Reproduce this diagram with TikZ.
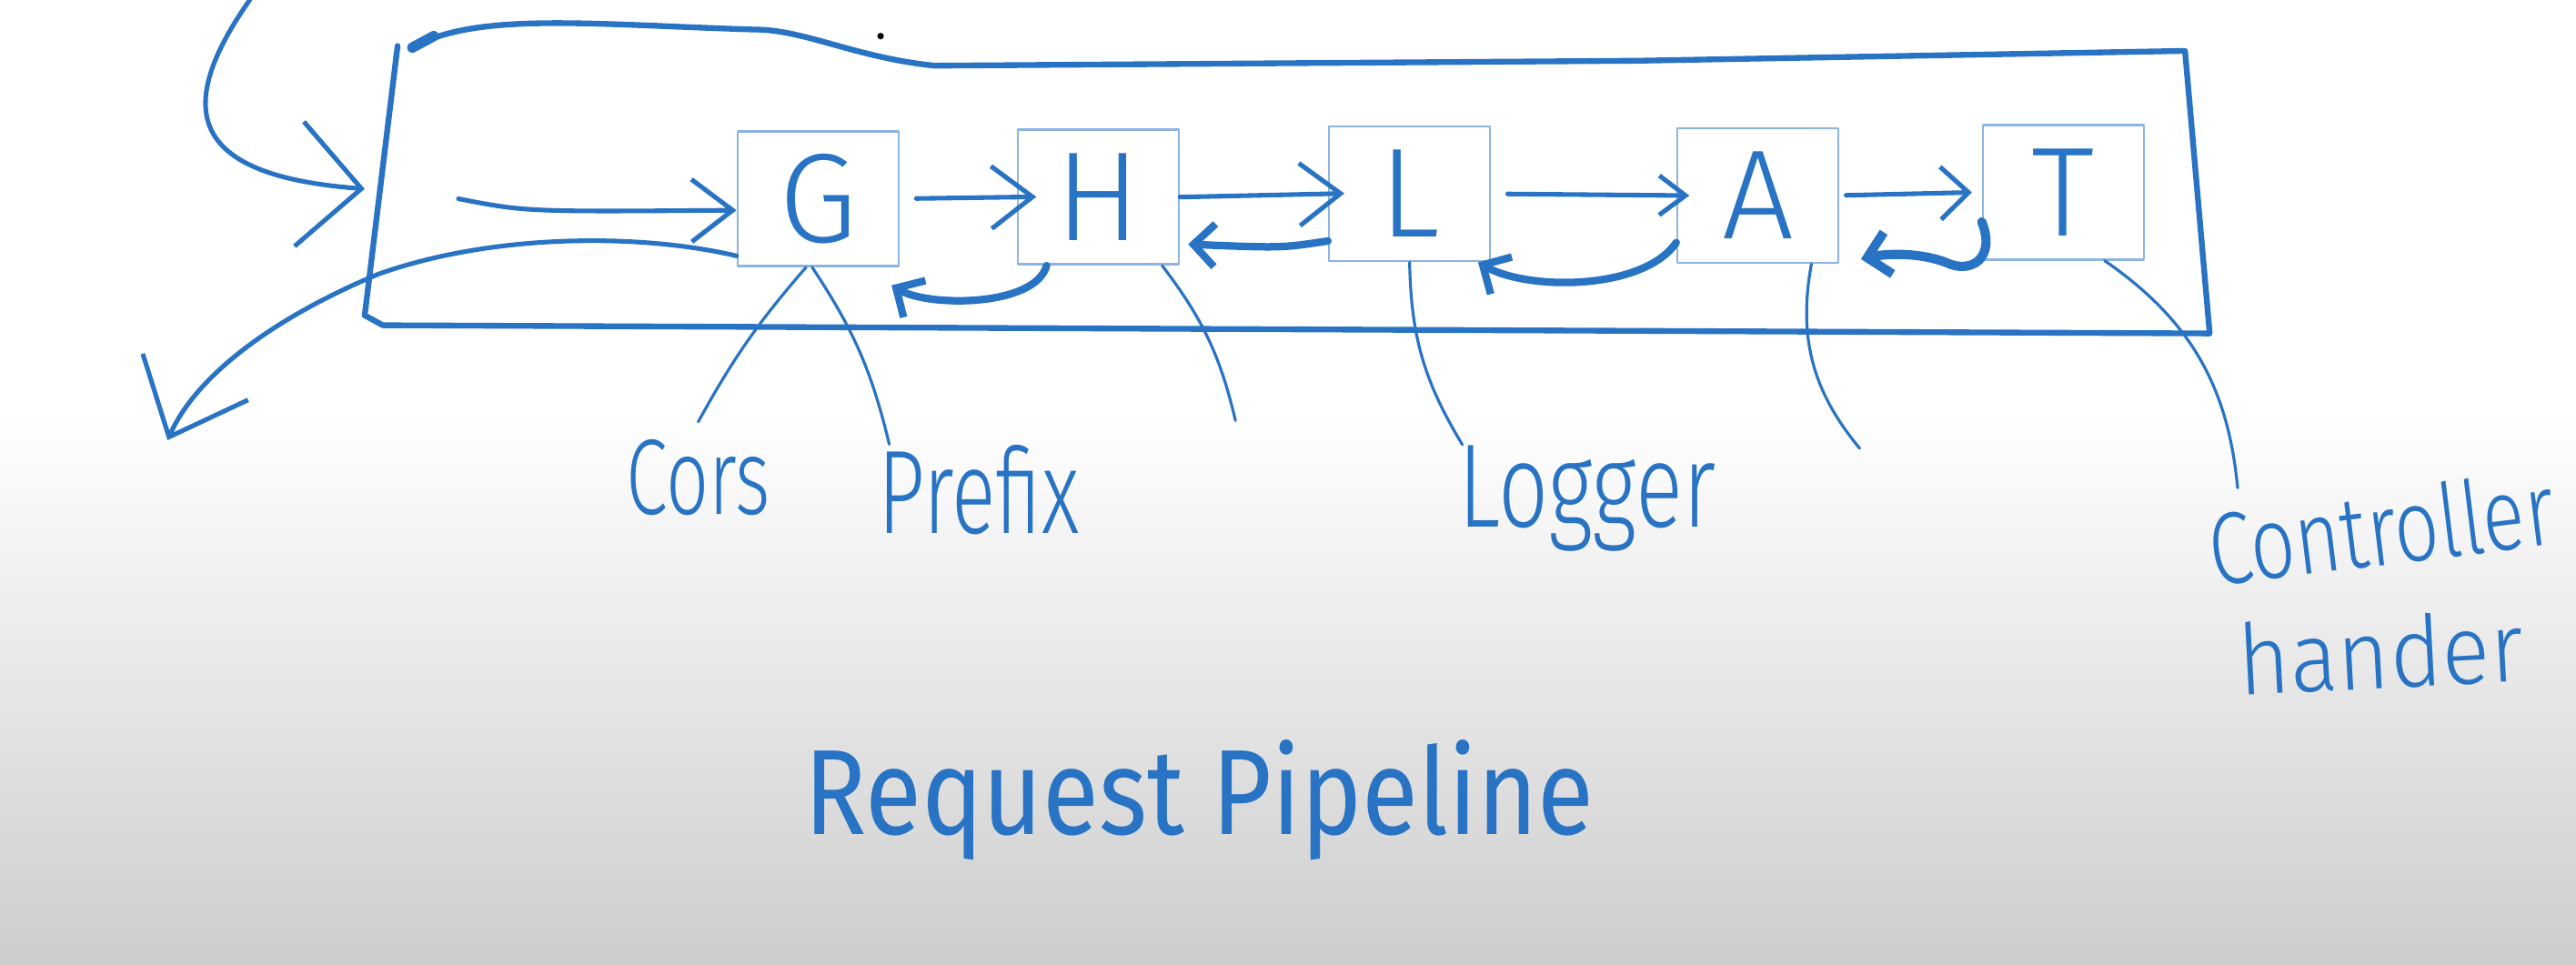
\documentclass[tikz,border=0pt]{standalone}
\usepackage{fontspec}
\setmainfont{Fira Sans}
\newfontfamily\hand{Fira Sans Light}
\usetikzlibrary{arrows.meta}
\definecolor{inkblue}{RGB}{40,115,195}
\definecolor{boxblue}{RGB}{140,180,225}
\definecolor{boardgray}{RGB}{205,205,205}

\begin{document}
\begin{tikzpicture}[color=inkblue, line cap=round, line join=round,
    mware/.style={draw=boxblue, line width=0.4pt, minimum width=0.98cm, minimum height=0.82cm, inner sep=0pt, text=inkblue, font=\hand\fontsize{22}{22}\selectfont},
    note/.style={inner sep=0pt, anchor=base, text=inkblue},
    fwd/.style={line width=0.8pt, -{Straight Barb[length=2.5mm,width=3.8mm]}},
    bck/.style={line width=1.3pt, -{Straight Barb[length=1.3mm,width=2.6mm]}},
    lead/.style={line width=0.5pt}]

		% whiteboard
		\fill[white] (0,0) rectangle (15.68,5.87);
		\shade[top color=white, bottom color=boardgray] (0,0) rectangle (15.68,3.35);
		\useasboundingbox (0,0) rectangle (15.68,5.87);

		% pipeline frame
		\draw[line width=1pt] (2.42,5.59) -- (2.22,3.95) -- (2.33,3.89) -- (13.45,3.84) -- (13.30,5.56) -- (9.97,5.50) -- (5.69,5.47)
		.. controls (5.2,5.52) and (4.9,5.69) .. (4.59,5.69)
		.. controls (3.6,5.72) and (2.9,5.80) .. (2.51,5.58);
		\draw[line width=1.8pt] (2.51,5.58) -- (2.64,5.65);
		\fill[black] (5.36,5.65) circle (0.02);

		% middlewares
		\path (4.98,4.66) node[mware] (G) {G}
		(6.685,4.67) node[mware] (H) {H}
		(8.58,4.69) node[mware] (L) {L}
		(10.70,4.68) node[mware] (A) {A}
		(12.56,4.70) node[mware] (T) {T};

		% labels
		\path (4.25,2.74) node[note, xscale=.7, font=\hand\fontsize{18.6}{19}\selectfont] (cors) {Cors}
		(5.96,2.62) node[note, xscale=.69, font=\hand\fontsize{20.6}{21}\selectfont] (prefix) {Prefix}
		(9.66,2.66) node[note, xscale=.74, font=\hand\fontsize{20.6}{21}\selectfont] (logger) {Logger}
		(14.52,2.43) node[note, rotate=7, xscale=.77, font=\hand\fontsize{17.7}{18}\selectfont] (ctrl) {Controller}
		(14.50,1.68) node[note, rotate=3, xscale=.91, font=\hand\fontsize{17}{17}\selectfont] (handler) {hander}
		(7.30,0.79) node[note, xscale=.85, font=\fontsize{21}{21}\selectfont] (title) {Request Pipeline};

		\coordinate (looptop) at (1.52,5.87);
		\coordinate (loopend) at (2.22,4.72);
		\coordinate (entry) at (2.79,4.66);
		\coordinate (exit) at (1.02,3.19);
		\coordinate (hend) at (7.52,3.31);
		\coordinate (aend) at (11.32,3.14);
		\coordinate (tend) at (13.62,2.90);

		% request in and out
		\draw[line width=0.8pt, -{Straight Barb[length=3.8mm,width=7.6mm]}] (looptop) .. controls (1.05,5.2) and (1.15,4.8) .. (loopend);
		\draw[fwd] (entry) .. controls (3.2,4.58) .. (G.188);
		\draw[line width=0.8pt, -{Straight Barb[length=4mm,width=7mm]}] (G.215) .. controls (3.9,4.45) and (3.0,4.45) .. (2.3,4.2)
		.. controls (1.7,3.95) and (1.2,3.6) .. (exit);

		% forward
		\draw[fwd, shorten <=1mm, shorten >=-1.2mm] (G.east) -- (H.west);
		\draw[fwd, shorten >=-1mm] (H.east) -- (L.west);
		\draw[fwd, -{Straight Barb[length=1.6mm,width=2.4mm]}, shorten <=1mm, shorten >=-.8mm] (L.east) -- (A.west);
		\draw[fwd, -{Straight Barb[length=1.7mm,width=3.2mm]}, shorten <=.4mm, shorten >=.6mm] (A.east) -- (T.west);

		% back
		\draw[bck] (H.-127) .. controls (6.3,4.0) and (5.65,4.0) .. ([shift={(-0.05,-0.11)}]G.south east);
		\draw[bck] (L.210) .. controls (7.8,4.36) .. ([xshift=.5mm]H.-30);
		\draw[bck] (A.210) .. controls (10.0,4.1) and (9.3,4.1) .. ([xshift=-.8mm]L.south east);
		\draw[bck, line width=1.6pt] (T.200) .. controls (12.15,4.3) and (12.0,4.2) .. (11.85,4.27)
		.. controls (11.7,4.33) and (11.5,4.33) .. ([shift={(1.3mm,.3mm)}]A.south east);

		% leaders
		\draw[lead] (G.-100) to[bend right=6] ([yshift=1mm]cors.north);
		\draw[lead] (G.-95) to[bend left=10] ([xshift=.7mm]prefix.north west);
		\draw[lead] (H.-47) to[bend left=12] (hend);
		\draw[lead] (L.south) to[bend right=15] ([xshift=.3mm]logger.north west);
		\draw[lead] (A.-52) to[bend right=25] (aend);
		\draw[lead] (T.-59) to[bend left=25] (tend);
	\end{tikzpicture}
\end{document}
